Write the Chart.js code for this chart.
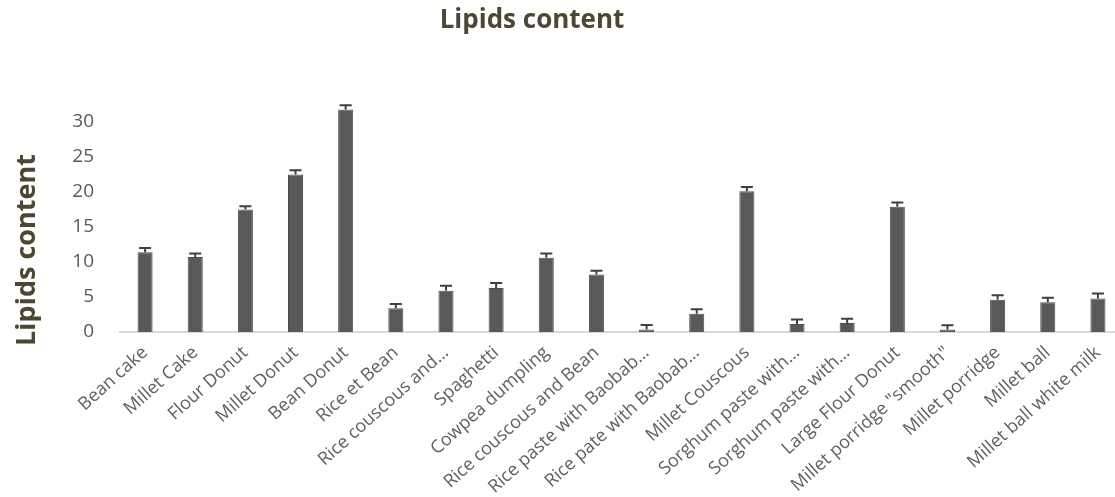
<!DOCTYPE html>
<html>
<head>
<meta charset="utf-8">
<script src="https://cdn.jsdelivr.net/npm/chart.js@4/dist/chart.umd.min.js"></script>
<style>
  html, body { margin: 0; padding: 0; background: #ffffff; overflow: hidden; }
  #wrap { position: relative; width: 1130px; height: 497px; }
</style>
</head>
<body>
<div id="wrap"><canvas id="c" width="1130" height="497"></canvas></div>
<script>
const categories = [
  'Bean cake', 'Millet Cake', 'Flour Donut', 'Millet Donut', 'Bean Donut',
  'Rice et Bean', 'Rice couscous and…', 'Spaghetti', 'Cowpea dumpling',
  'Rice couscous and Bean', 'Rice paste with Baobab…', 'Rice pate with Baobab…',
  'Millet Couscous', 'Sorghum paste with…', 'Sorghum paste with…',
  'Large Flour Donut', 'Millet porridge "smooth"', 'Millet porridge',
  'Millet ball', 'Millet ball white milk'
];
const lipids = [11.4, 10.7, 17.5, 22.5, 31.8, 3.4, 5.9, 6.3, 10.6, 8.2,
                0.35, 2.6, 20.1, 1.15, 1.3, 17.9, 0.35, 4.6, 4.25, 4.8];
const lipidsError = [0.6, 0.5, 0.45, 0.6, 0.6, 0.6, 0.7, 0.7, 0.6, 0.55,
                     0.65, 0.65, 0.6, 0.65, 0.6, 0.6, 0.6, 0.65, 0.65, 0.7];
const yTicks = [0, 5, 10, 15, 20, 25, 30, 35];

const titleText = 'Lipids content';
const axisTitleText = 'Lipids content';

// Upward error whiskers with a cap, placed through the y scale
const errorBars = {
  id: 'errorBars',
  afterDatasetsDraw(chart) {
    const meta = chart.getDatasetMeta(0);
    const y = chart.scales.y;
    const ctx = chart.ctx;
    ctx.save();
    ctx.strokeStyle = '#3f3f3f';
    ctx.lineWidth = 2;
    meta.data.forEach((bar, i) => {
      const v = lipids[i];
      const top = y.getPixelForValue(v + lipidsError[i]);
      const base = y.getPixelForValue(v);
      ctx.beginPath();
      ctx.moveTo(bar.x, base);
      ctx.lineTo(bar.x, top);
      ctx.moveTo(bar.x - 6, top);
      ctx.lineTo(bar.x + 6, top);
      ctx.stroke();
    });
    ctx.restore();
  }
};

// Chart heading and the rotated value-axis caption
const titles = {
  id: 'titles',
  afterDraw(chart) {
    const ctx = chart.ctx;
    ctx.save();
    ctx.fillStyle = '#4b4733';
    ctx.font = 'bold 26px "Open Sans"';
    ctx.textAlign = 'center';
    ctx.textBaseline = 'middle';
    ctx.fillText(titleText, 532, 21);
    ctx.font = 'bold 27px "Open Sans"';
    ctx.translate(27, 250);
    ctx.rotate(-Math.PI / 2);
    ctx.fillText(axisTitleText, 0, 0);
    ctx.restore();
  }
};

new Chart(document.getElementById('c'), {
  type: 'bar',
  data: {
    labels: categories,
    datasets: [{
      data: lipids,
      backgroundColor: '#595959',
      borderColor: '#4d4d4d',
      borderWidth: 1,
      barPercentage: 0.6,
      categoryPercentage: 0.5
    }]
  },
  options: {
    responsive: false,
    animation: false,
    events: [],
    layout: { padding: { top: 87, left: 0, right: 7, bottom: 0 } },
    plugins: { legend: { display: false }, tooltip: { enabled: false } },
    scales: {
      x: {
        grid: { display: false },
        border: { display: true, color: '#d9d9d9', width: 2 },
        ticks: {
          color: '#606060',
          font: { family: '"Open Sans"', size: 18 },
          minRotation: 42,
          maxRotation: 42,
          autoSkip: false,
          padding: 2
        },
        afterFit(scale) {
          scale.height = 165;
          scale.paddingLeft = 0;
          scale.paddingRight = 0;
        }
      },
      y: {
        min: 0,
        max: 35,
        grid: { display: false },
        border: { display: false },
        afterBuildTicks(scale) {
          scale.ticks = yTicks.map(v => ({ value: v }));
        },
        ticks: {
          color: '#595959',
          font: { family: '"Open Sans"', size: 19 },
          padding: 18,
          callback: v => (v === 35 ? '' : String(v))
        },
        afterFit(scale) {
          scale.width = 120;
        }
      }
    }
  },
  plugins: [errorBars, titles]
});
</script>
</body>
</html>
